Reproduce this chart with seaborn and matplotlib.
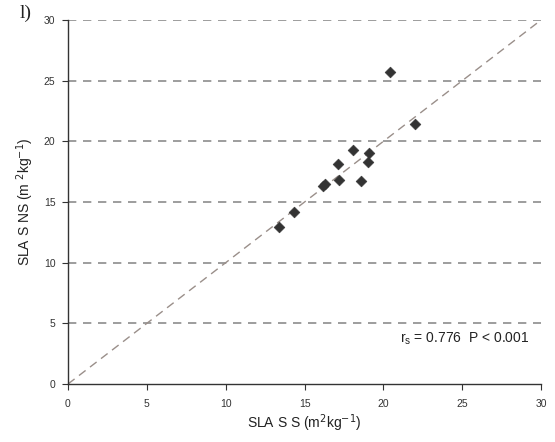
import matplotlib
matplotlib.use("Agg")
import matplotlib.pyplot as plt
import seaborn as sns
import pandas as pd

sla_ss = [13.4, 14.3, 16.2, 16.3, 17.1, 17.2, 18.1, 18.6, 19.0, 19.1, 20.4, 22.0]
sla_sns = [12.9, 14.2, 16.3, 16.5, 18.1, 16.8, 19.3, 16.7, 18.3, 19.0, 25.7, 21.4]
line_vals = [0, 30]
ticks = [0, 5, 10, 15, 20, 25, 30]

sns.set_style("white")
plt.rcParams['font.family'] = ['Liberation Sans', 'DejaVu Sans']

fig = plt.figure(figsize=(5.55, 4.42), dpi=100)
ax = fig.add_axes([0.1225, 0.1312, 0.8525, 0.8236])

for t in ticks[1:]:
    ax.axhline(t, color='#8c8c8c', lw=1.2, ls=(0, (5, 4)), zorder=1)

sns.lineplot(x=line_vals, y=line_vals, ax=ax, color='#9a8f8a', lw=1.0,
             linestyle=(0, (6, 4)), zorder=2)
df = pd.DataFrame({'x': sla_ss, 'y': sla_sns})
sns.scatterplot(data=df, x='x', y='y', ax=ax, marker='D', s=30,
                color='#333333', edgecolor='#333333', zorder=3)

ax.set_xlim(0, 30)
ax.set_ylim(0, 30)
ax.set_xticks(ticks)
ax.set_yticks(ticks)
for s in ['top', 'right']:
    ax.spines[s].set_visible(False)
for s in ['left', 'bottom']:
    ax.spines[s].set_color('#333333')
    ax.spines[s].set_linewidth(1.0)
ax.tick_params(axis='both', labelsize=7.5, colors='#333333', length=4, width=0.8,
               direction='out', bottom=True, left=True)
ax.tick_params(axis='x', pad=7)
ax.tick_params(axis='y', pad=5)
ax.set_xlabel('SLA S S (m$^2$kg$^{-1}$)', fontsize=10, color='#222222', labelpad=2)
ax.set_ylabel('SLA S NS (m $^2$kg$^{-1}$)', fontsize=10, color='#222222', labelpad=6)

ax.text(0.975, 0.125, r'r$_\mathregular{s}$ = 0.776  P < 0.001', transform=ax.transAxes,
        ha='right', va='center', fontsize=10, color='#222222')
fig.text(0.035, 0.99, 'l)', fontsize=14, family=['Liberation Serif', 'DejaVu Serif'],
         ha='left', va='top', color='#222222')

fig.savefig('out.png', dpi=100)
